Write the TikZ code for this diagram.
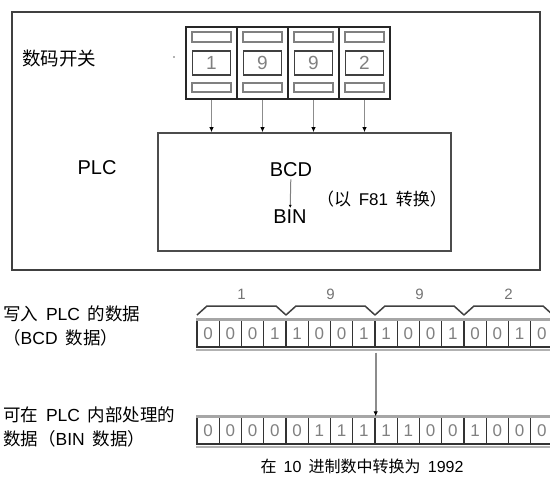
\documentclass[tikz,border=0pt]{standalone}
\usepackage{fontspec}
\setmainfont{Liberation Sans}
\newfontfamily\cjk{Noto Sans CJK SC}
\usetikzlibrary{arrows.meta,positioning}
\newcommand{\zh}[1]{{\cjk #1}}
\newcommand{\gap}{\hspace{0.45em}}

\tikzset{
  frame/.style={draw=black!75, line width=1.8pt},
  switchbox/.style={draw=black!85, line width=1.8pt, minimum width=51pt, minimum height=72pt, inner sep=0pt},
  slot/.style={draw=black!50, line width=1.6pt},
  window/.style={draw=black!75, line width=1.5pt, minimum width=38pt, minimum height=24pt, inner sep=0pt, text=black!50, font=\fontsize{19}{19}\selectfont},
  flow/.style={black!45, line width=1.6pt, -{Latex[length=5pt,width=4.5pt,color=black]}},
  bitbox/.style={draw=black!80, line width=1.4pt, minimum width=22.25pt, minimum height=27pt, inner sep=0pt, text=black!50, font=\fontsize{17}{17}\selectfont},
  txt/.style={font=\fontsize{17.5}{24}\selectfont, align=left, inner sep=0pt},
  digit/.style={text=black!55, font=\fontsize{15}{15}\selectfont, inner sep=0pt}
}

\begin{document}
\begin{tikzpicture}[x=1pt, y=-1pt]
\useasboundingbox (0,0) rectangle (550,491);
\clip (0,0) rectangle (550,491);

% Cadre PLC
\draw[frame] (12,12) rectangle (540,270);
\node[txt, font=\fontsize{18.5}{18.5}\selectfont, anchor=west] (swtxt) at (22,58) {\zh{数码开关}};
\fill[black!60] (174,57) circle (0.8);

% Commutateurs
\foreach \d [count=\i] in {1,9,9,2} {
  \node[switchbox] (sw\i) at ({186+51*(\i-0.5)},63) {};
  \draw[slot] ([xshift=7pt,yshift=-6pt]sw\i.north west) rectangle ([xshift=-7pt,yshift=-16pt]sw\i.north east);
  \draw[slot] ([xshift=7pt,yshift=8pt]sw\i.south west) rectangle ([xshift=-7pt,yshift=17pt]sw\i.south east);
  \node[window] (win\i) at (sw\i.center) {\d};
}

\node[draw=black!70, line width=1.6pt, minimum width=293pt, minimum height=118pt, inner sep=0pt] (plc) at (304.5,192) {};
\foreach \i in {1,...,4}
  \draw[flow] (sw\i.south) -- (sw\i.south |- plc.north);

\node[txt, font=\fontsize{20}{20}\selectfont] (plctxt) at (97,168) {PLC};
\node[font=\fontsize{20}{20}\selectfont, inner sep=2pt] (bcd) at (291,170) {BCD};
\node[font=\fontsize{20}{20}\selectfont, inner sep=2pt] (bin) at (290,217) {BIN};
\draw[black!50, line width=1pt, -{Latex[length=3pt,width=3pt,color=black]}] (bcd) -- (bin);
\node[txt, font=\fontsize{17}{17}\selectfont, anchor=west] (f81) at (317,199) {\zh{（以}\gap F81\gap\zh{转换）}};

% Donnees BCD
\foreach \v [count=\i] in {0,0,0,1,1,0,0,1,1,0,0,1,0,0,1,0}
  \node[bitbox] (b\i) at ({197+22.25*(\i-0.5)},333.5) {\v};
\draw[black!35, line width=2.5pt] (b1.north west) -- (b16.north east);
\draw[black!30, line width=2.5pt] ([yshift=-2.5pt]b1.south west) -- ([yshift=-2.5pt]b16.south east);

\foreach \d [count=\g] in {1,9,9,2} {
  \pgfmathsetmacro\xa{197+89*(\g-1)}
  \draw[black!75, line width=1.5pt] (\xa,315) -- (\xa+10,306) -- (\xa+79,306) -- (\xa+89,315);
  \node[digit] (grp\g) at (\xa+44.5,294) {\d};
}

% Donnees BIN
\foreach \v [count=\i] in {0,0,0,0,0,1,1,1,1,1,0,0,1,0,0,0}
  \node[bitbox] (c\i) at ({197+22.25*(\i-0.5)},430.5) {\v};
\draw[black!35, line width=2.5pt] (c1.north west) -- (c16.north east);
\draw[black!30, line width=2.5pt] ([yshift=-2.5pt]c1.south west) -- ([yshift=-2.5pt]c16.south east);

\draw[flow, shorten <=5pt] (b8.south east) -- (c8.north east);

% Labels
\node[txt, anchor=north west] (bcdtxt) at (3,306) {\zh{写入}\gap PLC\gap\zh{的数据}\\\zh{（}BCD\gap\zh{数据）}};
\node[txt, anchor=north west] (bintxt) at (3,407) {\zh{可在}\gap PLC\gap\zh{内部处理的}\\\zh{数据（}BIN\gap\zh{数据）}};
\node[txt, font=\fontsize{16}{16}\selectfont] (result) at (362,466) {\zh{在}\gap 10\gap\zh{进制数中转换为}\gap 1992};
\end{tikzpicture}
\end{document}
